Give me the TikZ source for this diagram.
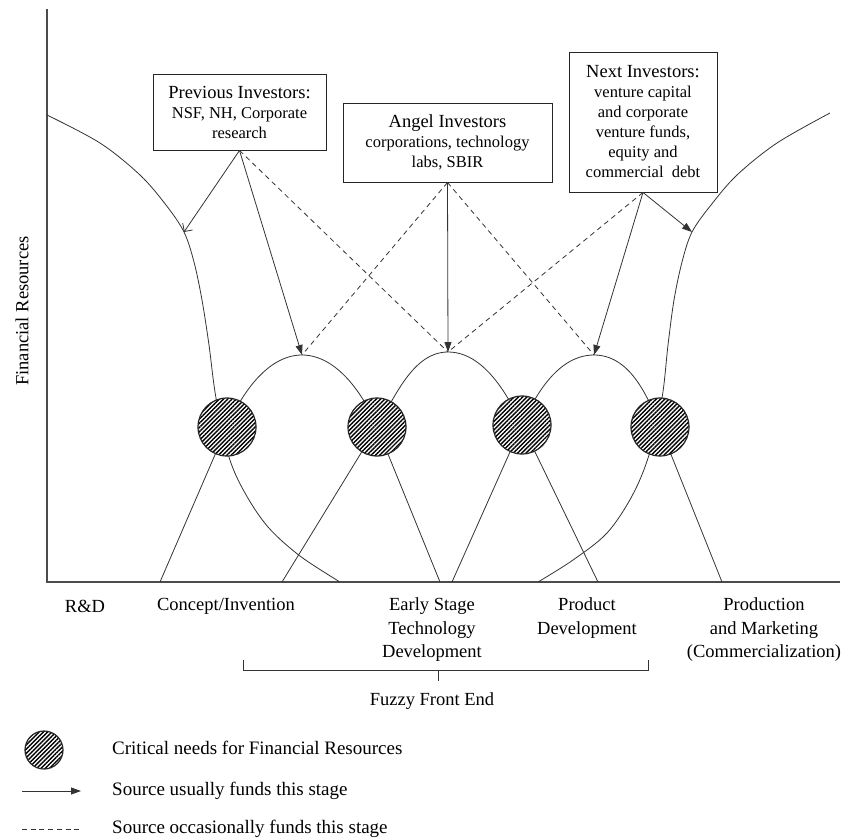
\documentclass[tikz,border=0pt]{standalone}
\usepackage{fontspec}
\setmainfont{Liberation Serif}
\usetikzlibrary{arrows.meta,patterns.meta}
\tikzset{
  ln/.style={line width=0.8pt, draw=black!80},
  axisln/.style={line width=1.2pt, draw=black!70},
  solidarrow/.style={ln, -{Triangle[length=10pt,width=7pt]}},
  barbarrow/.style={ln, -{Straight Barb[length=6pt,width=12pt]}},
  dasharrow/.style={ln, dash pattern=on 5pt off 4pt},
  crit/.style={circle, minimum size=58pt, inner sep=0pt, draw=black!85, line width=1.2pt,
    preaction={fill=white}, pattern={Lines[angle=45,distance=3pt,line width=1.4pt]}},
  box/.style={draw=black!85, line width=0.9pt, fill=white, align=center, inner sep=0pt,
    font=\fontsize{16.5}{20}\selectfont},
  lab/.style={font=\fontsize{18.5}{23.5}\selectfont, align=center, inner sep=0pt},
  legtext/.style={font=\fontsize{19}{23.5}\selectfont, anchor=west, inner sep=0pt},
}
\newcommand{\boxtitle}[1]{{\fontsize{18.5}{21}\selectfont #1}}
\begin{document}
\begin{tikzpicture}[x=1pt,y=-1pt]
\useasboundingbox (0,0) rectangle (843,839);

% axes
\draw[axisln] (47,9) -- (47,582) -- (840,582);
\node[lab, rotate=90] (ylab) at (22,311) {Financial Resources};

% left falling curve
\draw[ln] plot[smooth, tension=0.55] coordinates {(47,115) (100,143) (140,175) (166,205) (184,232) (194,262) (202,300) (209,345) (216,398) (229,457) (245,493) (268,527) (300,556) (340,582)};
% right rising curve
\draw[ln] plot[smooth, tension=0.55] coordinates {(830,113) (777,143) (737,175) (711,205) (692,232) (682,262) (674,300) (668,345) (662,398) (649,455) (632,496) (607,533) (573,560) (538,582)};

% peaks and circle centres
\coordinate (p1) at (302,355);
\coordinate (p2) at (448,352);
\coordinate (p3) at (594,355);
\coordinate (lc) at (184,232);
\coordinate (rc) at (692,232);

% arches
\draw[ln] (160,582) -- (227,427) .. controls (241,395) and (267,355) .. (p1)
  .. controls (337,355) and (364,395) .. (377,427) -- (440,582);
\draw[ln] (282,582) -- (377,427) .. controls (395,397) and (413,352) .. (p2)
  .. controls (483,352) and (507,393) .. (522,425) -- (598,582);
\draw[ln] (452,582) -- (522,425) .. controls (536,393) and (559,355) .. (p3)
  .. controls (629,355) and (647,394) .. (660,427) -- (722,582);

% critical circles
\node[crit] (c1) at (227,427) {};
\node[crit] (c2) at (377,427) {};
\node[crit] (c3) at (522,425) {};
\node[crit] (c4) at (660,427) {};

% investor boxes
\node[box, minimum width=173pt, minimum height=76pt] (prev) at (239.5,112)
  {\boxtitle{Previous Investors:}\\NSF, NH, Corporate\\research};
\node[box, minimum width=209pt, minimum height=79pt] (angel) at (447.5,142.5)
  {\boxtitle{Angel Investors}\\corporations, technology\\labs, SBIR};
\node[box, minimum width=148pt, minimum height=140pt] (next) at (643,122)
  {\boxtitle{Next Investors:}\\venture capital\\and corporate\\venture funds,\\equity and\\commercial\ \ debt};

% arrows
\draw[barbarrow] (prev.south) -- (lc);
\draw[solidarrow] (prev.south) -- (p1);
\draw[dasharrow] (prev.south) -- (p2);
\draw[dasharrow] (angel.south) -- (p1);
\draw[solidarrow] (angel.south) -- (p2);
\draw[dasharrow] (angel.south) -- (p3);
\draw[dasharrow] (next.south) -- (p2);
\draw[solidarrow] (next.south) -- (p3);
\draw[solidarrow] (next.south) -- (rc);

% stage labels
\node[lab] (rd) at (85,606) {R\&D};
\node[lab] (ci) at (226,606) {Concept/Invention};
\node[lab] (es) at (432,630) {Early Stage\\Technology\\Development};
\node[lab] (pd) at (587,618) {Product\\Development};
\node[lab] (pm) at (764,630) {Production\\and Marketing\\(Commercialization)};

% bracket
\draw[ln] (243,660) -- (243,670) -- (648,670) -- (648,660);
\draw[ln] (438,670) -- (438,681);
\node[lab] (ffe) at (432,701) {Fuzzy Front End};

% legend
\node[crit, minimum size=38pt] (lg) at (44,750) {};
\node[legtext] (lt1) at (112,748) {Critical needs for Financial Resources};
\coordinate (la1) at (22,791);
\coordinate (la2) at (81,791);
\draw[solidarrow] (la1) -- (la2);
\node[legtext] (lt2) at (112,791) {Source usually\ funds this\ stage};
\coordinate (ld1) at (22,829);
\coordinate (ld2) at (81,829);
\draw[ln, dash pattern=on 5pt off 3.7pt] (ld1) -- (ld2);
\node[legtext] (lt3) at (112,829) {Source occasionally\ funds this stage};
\end{tikzpicture}
\end{document}
